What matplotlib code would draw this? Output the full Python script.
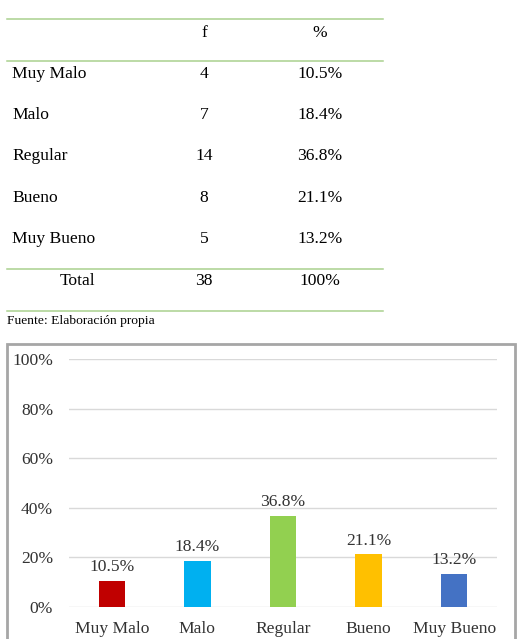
import matplotlib
matplotlib.use("Agg")
import matplotlib.pyplot as plt
from matplotlib.lines import Line2D
from matplotlib.patches import Rectangle

categories = ["Muy Malo", "Malo", "Regular", "Bueno", "Muy Bueno"]
freq = [4, 7, 14, 8, 5]
pct = [10.5, 18.4, 36.8, 21.1, 13.2]
pct_labels = ["10.5%", "18.4%", "36.8%", "21.1%", "13.2%"]
total_f = 38
total_pct = "100%"
bar_colors = ["#C00000", "#00B0F0", "#92D050", "#FFC000", "#4472C4"]
yticks = [0, 20, 40, 60, 80, 100]

W, H = 518, 639
plt.rcParams['font.family'] = ['Liberation Serif', 'DejaVu Serif']
fig = plt.figure(figsize=(W / 100, H / 100), dpi=100)

def fx(x):
    return x / W

def fy(y):
    return 1 - y / H

# ---- Table ----
green = "#A9D18E"
for yl in [19, 61, 269, 311]:
    fig.add_artist(Line2D([fx(7), fx(383)], [fy(yl), fy(yl)], color=green, lw=1.1))

fs = 12.6
fig.text(fx(204), fy(33), "f", ha="center", va="center", fontsize=fs)
fig.text(fx(320), fy(33), "%", ha="center", va="center", fontsize=fs)
row_y = [74, 115, 156, 198, 239]
for cat, f, p, yy in zip(categories, freq, pct_labels, row_y):
    fig.text(fx(12.5), fy(yy), cat, ha="left", va="center", fontsize=fs)
    fig.text(fx(204), fy(yy), str(f), ha="center", va="center", fontsize=fs)
    fig.text(fx(320), fy(yy), p, ha="center", va="center", fontsize=fs)
fig.text(fx(78), fy(281), "Total", ha="center", va="center", fontsize=fs)
fig.text(fx(204), fy(281), str(total_f), ha="center", va="center", fontsize=fs)
fig.text(fx(320), fy(281), total_pct, ha="center", va="center", fontsize=fs)
fig.text(fx(7), fy(321), "Fuente: Elaboración propia", ha="left", va="center", fontsize=9.7)

# ---- Chart frame ----
fig.add_artist(Rectangle((fx(6.5), fy(660)), fx(508), (660 - 343.5) / H,
                         transform=fig.transFigure, fill=False,
                         edgecolor="#A6A6A6", lw=2.0, clip_on=False))

# ---- Bar chart ----
ax = fig.add_axes([fx(69), fy(606.7), fx(428), (606.7 - 359.3) / H])
x = list(range(len(categories)))
ax.bar(x, pct, width=0.31, color=bar_colors, zorder=3)
ax.set_xlim(-0.5, len(categories) - 0.5)
ax.set_ylim(0, 100)
ax.set_yticks(yticks)
ax.set_yticklabels([f"{t}%" for t in yticks], fontsize=fs)
ax.set_xticks(x)
ax.set_xticklabels(categories, fontsize=fs)
ax.tick_params(axis="both", length=0, colors="#333333")
ax.tick_params(axis="y", pad=11.5)
ax.tick_params(axis="x", pad=10)
ax.grid(axis="y", color="#D9D9D9", lw=1.0, zorder=0)
for s in ax.spines.values():
    s.set_visible(False)
for xi, v, lab in zip(x, pct, pct_labels):
    ax.text(xi, v + 2.4, lab, ha="center", va="bottom", fontsize=fs, color="#333333")

fig.savefig("out.png", dpi=100)
